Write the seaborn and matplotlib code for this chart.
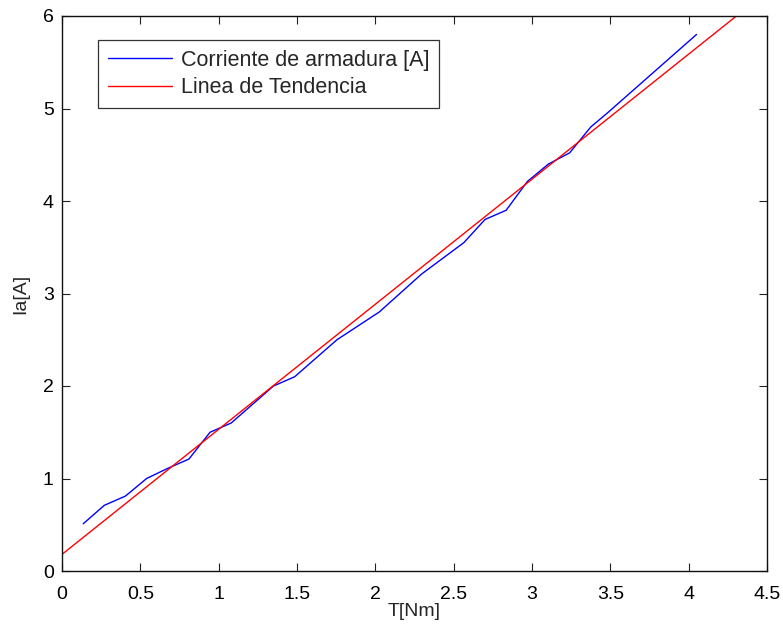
import numpy as np
import pandas as pd
import matplotlib
matplotlib.use("Agg")
import matplotlib.pyplot as plt
import seaborn as sns

# Measured data: torque vs armature current
torque = [0.135, 0.27, 0.405, 0.54, 0.675, 0.81, 0.945, 1.08, 1.35, 1.485,
          1.755, 2.025, 2.295, 2.565, 2.70, 2.835, 2.97, 3.105, 3.24, 3.375,
          3.48, 4.05]
current = [0.51, 0.71, 0.81, 1.0, 1.11, 1.21, 1.5, 1.6, 2.0, 2.1,
           2.5, 2.8, 3.21, 3.55, 3.8, 3.9, 4.21, 4.4, 4.52, 4.8,
           4.95, 5.8]

# Trend line coefficients (Ia = m*T + b)
slope = 1.352
intercept = 0.18
trend_t = [0.0, 4.5]

df = pd.DataFrame({'T': torque, 'Ia': current})
trend = pd.DataFrame({'T': trend_t, 'Ia': [slope * t + intercept for t in trend_t]})

sns.set_style('white')
plt.rcParams['font.family'] = ['Liberation Sans', 'DejaVu Sans']

fig = plt.figure(figsize=(7.83, 6.28), dpi=100)
ax = fig.add_axes([62 / 783, 57 / 628, 705 / 783, 555 / 628])

sns.lineplot(data=df, x='T', y='Ia', ax=ax, color='#0000ff', linewidth=1,
             label='Corriente de armadura [A]', sort=False)
sns.lineplot(data=trend, x='T', y='Ia', ax=ax, color='#ff0000', linewidth=1,
             label='Linea de Tendencia', sort=False)

ax.set_xlim(0, 4.5)
ax.set_ylim(0, 6)
ax.set_xticks(np.arange(0, 4.51, 0.5))
ax.set_xticklabels(['0', '0.5', '1', '1.5', '2', '2.5', '3', '3.5', '4', '4.5'])
ax.set_yticks(range(0, 7))
ax.set_xlabel('T[Nm]', fontsize=14, labelpad=0)
ax.set_ylabel('Ia[A]', fontsize=14, labelpad=10)
ax.tick_params(direction='in', length=6, width=0.8, labelsize=14,
               top=True, right=True, bottom=True, left=True, colors='#222222',
               labelcolor='black')
ax.tick_params(axis='x', pad=11)
ax.tick_params(axis='y', pad=6)
for s in ax.spines.values():
    s.set_color('#111111')
    s.set_linewidth(1.0)

leg = ax.legend(loc='upper left', bbox_to_anchor=(36 / 705, 1 - 24 / 555),
                fontsize=15.5, fancybox=False, shadow=False, frameon=True,
                borderaxespad=0, handlelength=3.0, handletextpad=0.4,
                borderpad=0.45, labelspacing=0.3)
leg.get_frame().set_edgecolor('black')
leg.get_frame().set_linewidth(0.9)

fig.savefig('out.png', dpi=100)
